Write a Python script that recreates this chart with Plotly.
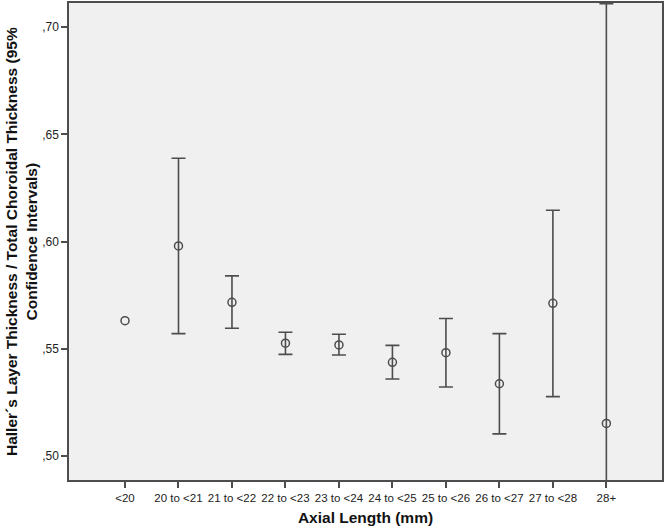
import plotly.graph_objects as go

categories = ["<20", "20 to <21", "21 to <22", "22 to <23", "23 to <24",
              "24 to <25", "25 to <26", "26 to <27", "27 to <28", "28+"]
means = [0.5631, 0.5980, 0.5717, 0.5526, 0.5518, 0.5437, 0.5482, 0.5337, 0.5712, 0.5152]
ci_upper = [None, 0.6389, 0.5840, 0.5577, 0.5568, 0.5516, 0.5641, 0.5571, 0.6146, 0.7110]
ci_lower = [None, 0.5571, 0.5596, 0.5474, 0.5471, 0.5359, 0.5322, 0.5103, 0.5277, 0.3200]
y_ticks = [0.50, 0.55, 0.60, 0.65, 0.70]
y_tick_labels = [",50", ",55", ",60", ",65", ",70"]

x_pos = list(range(len(categories)))
eb_idx = [i for i in x_pos if ci_upper[i] is not None]

line_col = "#4d4d4d"
font_fam = "Liberation Sans, Arial, sans-serif"

fig = go.Figure()

fig.add_trace(go.Scatter(
    x=[x_pos[i] for i in eb_idx],
    y=[means[i] for i in eb_idx],
    mode="markers",
    marker=dict(size=1, color="rgba(0,0,0,0)"),
    error_y=dict(
        type="data", symmetric=False,
        array=[ci_upper[i] - means[i] for i in eb_idx],
        arrayminus=[means[i] - ci_lower[i] for i in eb_idx],
        color=line_col, thickness=1.6, width=7,
    ),
    hoverinfo="skip", showlegend=False,
))

fig.add_trace(go.Scatter(
    x=x_pos, y=means, mode="markers",
    marker=dict(symbol="circle-open", size=8, color=line_col,
                line=dict(width=1.5, color=line_col)),
    showlegend=False,
))

fig.update_layout(
    width=666, height=532,
    margin=dict(l=69, r=4, t=3, b=52),
    paper_bgcolor="white",
    plot_bgcolor="#f0f0f0",
    font=dict(family=font_fam, size=11, color="#222"),
    xaxis=dict(
        range=[-1.047, 10.04],
        tickmode="array", tickvals=x_pos, ticktext=categories,
        ticks="outside", ticklen=6, tickwidth=1.5, tickcolor=line_col,
        showgrid=False, zeroline=False,
        showline=True, mirror=True, linecolor=line_col, linewidth=1.5,
        tickfont=dict(size=11.5, color="#222"),
        title=dict(text="<b>Axial Length (mm)</b>", font=dict(size=15.5, color="#111"),
                   standoff=10),
        automargin=False,
    ),
    yaxis=dict(
        range=[0.4888, 0.7113],
        tickmode="array", tickvals=y_ticks, ticktext=y_tick_labels,
        ticks="outside", ticklen=6, tickwidth=1.5, tickcolor=line_col,
        showgrid=False, zeroline=False,
        showline=True, mirror=True, linecolor=line_col, linewidth=1.5,
        tickfont=dict(size=12, color="#222"),
        automargin=False,
    ),
    annotations=[dict(
        text="<b>Haller´s Layer Thickness / Total Choroidal Thickness (95%<br>Confidence Intervals)</b>",
        xref="paper", yref="paper", x=0, y=0.5,
        xanchor="right", yanchor="middle", xshift=-27,
        textangle=-90, showarrow=False,
        font=dict(size=15.5, color="#111", family=font_fam),
    )],
)

fig.write_html("out.html", config={"displayModeBar": False},
               post_script="document.body.style.margin='0';document.body.style.padding='0';")
